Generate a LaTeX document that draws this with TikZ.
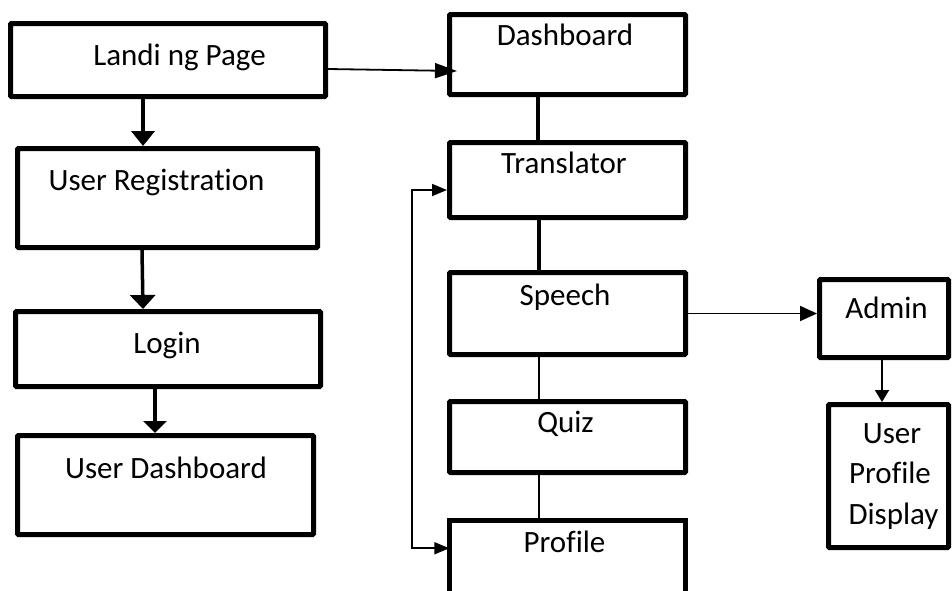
\documentclass[tikz,border=0pt]{standalone}
\usepackage{fontspec}
\setmainfont{Carlito}[Ligatures=NoCommon]
\usetikzlibrary{arrows.meta}
\begin{document}
\begin{tikzpicture}[x=1pt,y=-1pt,
  box/.style={draw,line width=5pt,rectangle,inner sep=0pt,rounded corners=1pt},
  txt/.style={anchor=base,inner sep=0pt,font=\fontsize{31}{41}\selectfont},
  bigarrow/.style={line width=3.5pt,-{Triangle[length=15pt,width=23pt]}},
  thinarrow/.style={line width=1.8pt,-{Triangle[length=17pt,width=15pt]}},
  thickline/.style={line width=4pt},
  thinline/.style={line width=1.5pt}]
\useasboundingbox (0,0) rectangle (952,590);
% left column
\node[box,minimum width=315pt,minimum height=73pt] (landing) at (168,60) {};
\node[box,minimum width=300pt,minimum height=99pt] (ureg) at (167.5,198) {};
\node[box,minimum width=305pt,minimum height=75pt] (login) at (168,349) {};
\node[box,minimum width=296pt,minimum height=99pt] (udash) at (165.5,485) {};
\node[txt] (tlanding) at (179.5,65) {Landi ng Page};
\node[txt] (tureg) at (156.5,190) {User Registration};
\node[txt] (tlogin) at (167,353) {Login};
\node[txt] (tudash) at (166,478) {User Dashboard};
% middle column
\node[box,minimum width=236pt,minimum height=80pt] (dash) at (567.5,54.5) {};
\node[box,minimum width=236pt,minimum height=75pt] (trans) at (567.5,180) {};
\node[box,minimum width=236pt,minimum height=82pt] (speech) at (567.5,313.5) {};
\node[box,minimum width=236pt,minimum height=71pt] (quiz) at (567.5,437) {};
\node[rectangle,inner sep=0pt,minimum width=236pt,minimum height=71.5pt] (profile) at (567.5,556.25) {};
\draw[line width=5pt] (profile.south west) -- (profile.north west) -- (profile.north east) -- (profile.south east);
\node[txt] (tdash) at (565,45) {Dashboard};
\node[txt] (ttrans) at (564,173) {Translator};
\node[txt] (tspeech) at (565,305) {Speech};
\node[txt] (tquiz) at (565.5,432) {Quiz};
\node[txt] (tprofile) at (564.5,552) {Profile};
% right column
\node[box,minimum width=129pt,minimum height=78pt] (admin) at (884,318.5) {};
\node[box,minimum width=120pt,minimum height=143pt] (upd) at (888.5,476) {};
\node[txt] (tadmin) at (886.5,318) {Admin};
\node[txt] (tupd1) at (892,443) {User};
\node[txt] (tupd2) at (890,483) {Profile};
\node[txt] (tupd3) at (893.5,524) {Display};
% connectors
\draw[bigarrow] ([xshift=-25pt]landing.south) -- ([xshift=-24.5pt]ureg.north);
\draw[bigarrow,-{Triangle[length=14pt,width=25pt]}] ([xshift=-25.5pt]ureg.south) -- ([xshift=-25pt]login.north);
\draw[bigarrow,-{Triangle[length=12pt,width=23pt]}] ([xshift=-13pt]login.south) -- ([xshift=-10.5pt]udash.north);
\draw[thinarrow,-{Triangle[length=22pt,width=15pt]}] ([yshift=-9pt]landing.east) -- ([xshift=10pt,yshift=-16.5pt]dash.west);
\draw[thickline] ([xshift=-29.5pt]dash.south) -- ([xshift=-29.5pt]trans.north);
\draw[thickline] ([xshift=-28.5pt]trans.south) -- ([xshift=-28.5pt]speech.north);
\draw[thinline] ([xshift=-28.5pt]speech.south) -- ([xshift=-28.5pt]quiz.north);
\draw[thinline] ([xshift=-28.5pt]quiz.south) -- ([xshift=-28.5pt]profile.north);
\coordinate (loop) at (412,190);
\draw[line width=1.8pt,{Triangle[length=15pt,width=12pt]}-{Triangle[length=15pt,width=12pt]}] ([yshift=-10pt]trans.west) -- (loop) |- ([yshift=8pt]profile.west);
\draw[thinarrow] (speech.east) -- (speech.east -| admin.west);
\draw[line width=1.8pt,-{Triangle[length=12pt,width=14pt]}] ([xshift=-2pt]admin.south) -- ([xshift=-6.5pt]upd.north);
\end{tikzpicture}
\end{document}
